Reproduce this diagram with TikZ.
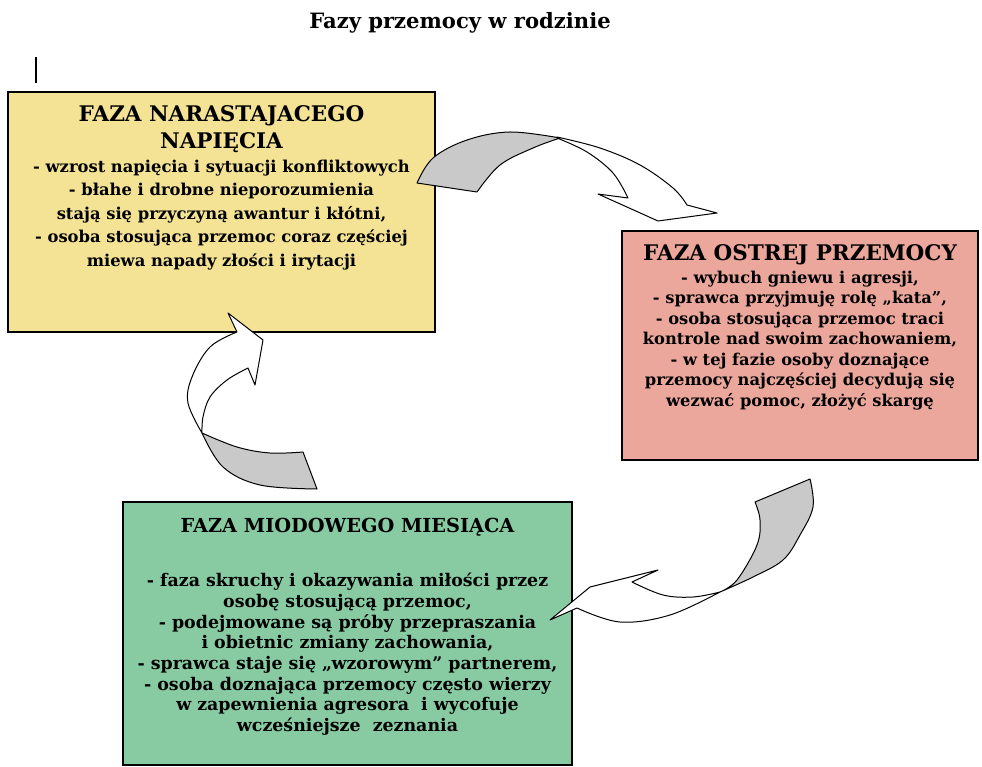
\documentclass[tikz,border=0pt]{standalone}
\usepackage{fontspec}
\setmainfont{DejaVu Serif}
\usepackage{xcolor}
\usetikzlibrary{positioning}

\definecolor{tensionfill}{HTML}{F4E395}
\definecolor{acutefill}{HTML}{ECA79C}
\definecolor{honeyfill}{HTML}{88CBA2}
\definecolor{ribbonfill}{HTML}{C9C9C9}

\begin{document}
\begin{tikzpicture}[
    x=1pt,
    y=-1pt,
    thick,
    node distance=15pt
]

\tikzstyle{phase}=[
    rectangle,
    draw,
    line width=1.4pt,
    inner sep=0pt
]

\tikzstyle{phasetext}=[
    align=center,
    inner sep=0pt
]

\tikzstyle{arrowback}=[draw, fill=ribbonfill, line width=1pt, line join=round]
\tikzstyle{arrowfront}=[draw, fill=white, line width=1pt, line join=round]

\useasboundingbox (0,0) rectangle (982,767);

\node[font=\bfseries\fontsize{21.1}{26}\selectfont] (title) at (460,23) {Fazy przemocy w rodzinie};

\coordinate (cursor) at (36,57);
\draw[line width=1.5pt] (cursor) -- ++(0,26);

\node[phase, fill=tensionfill, minimum width=427pt, minimum height=240pt] (build) at (221.5,212) {};
\node[phase, fill=acutefill, minimum width=356pt, minimum height=229pt] (acute) at (800,345.5) {};
\node[phase, fill=honeyfill, minimum width=449pt, minimum height=263pt] (honey) at (347.5,633.5) {};

\node[phasetext, font=\bfseries\fontsize{16.35}{23.5}\selectfont, below=14pt of build.north] (buildtext) {%
    {\fontsize{21.5}{27}\selectfont FAZA NARASTAJACEGO}\\[3.5pt]
    {\fontsize{21.5}{27}\selectfont NAPIĘCIA}\\
    - wzrost napięcia i sytuacji konfliktowych\\
    - błahe i drobne nieporozumienia\\
    stają się przyczyną awantur i kłótni,\\
    - osoba stosująca przemoc coraz częściej\\
    miewa napady złości i irytacji};

\node[phasetext, font=\bfseries\fontsize{16.3}{20.5}\selectfont, below=14pt of acute.north] (acutetext) {%
    {\fontsize{21.5}{26}\selectfont FAZA OSTREJ PRZEMOCY}\\[2pt]
    - wybuch gniewu i agresji,\\
    - sprawca przyjmuję rolę „kata”,\\
    - osoba stosująca przemoc traci\\
    kontrole nad swoim zachowaniem,\\
    - w tej fazie osoby doznające\\
    przemocy najczęściej decydują się\\
    wezwać pomoc, złożyć skargę};

\node[phasetext, font=\bfseries\fontsize{17.4}{20.7}\selectfont, below=16pt of honey.north] (honeytext) {%
    {\fontsize{19.3}{23}\selectfont FAZA MIODOWEGO MIESIĄCA}\\[34pt]
    - faza skruchy i okazywania miłości przez\\
    osobę stosującą przemoc,\\
    - podejmowane są próby przepraszania\\
    i obietnic zmiany zachowania,\\
    - sprawca staje się „wzorowym” partnerem,\\
    - osoba doznająca przemocy często wierzy\\
    w zapewnienia agresora~ i wycofuje\\
    wcześniejsze~ zeznania};

\filldraw[arrowback] plot[smooth, tension=0.6] coordinates {(417,183) (433,158) (467,140) (510,132) (560,138)}
    -- plot[smooth, tension=0.6] coordinates {(560,138) (533,148) (500,165) (477,192)} -- cycle;
\filldraw[arrowfront] plot[smooth, tension=0.6] coordinates {(557,137) (600,148) (640,165) (673,188) (687,205)}
    -- (717,213) -- (658,221) -- (598,194) -- (628,198)
    -- plot[smooth, tension=0.6] coordinates {(628,198) (613,173) (587,152) (557,138)} -- cycle;

\filldraw[arrowback] plot[smooth, tension=0.6] coordinates {(810,479) (813,507) (800,535) (783,560) (753,577) (720,592)}
    -- plot[smooth, tension=0.6] coordinates {(720,592) (737,580) (757,545) (760,520) (755,502)} -- cycle;
\filldraw[arrowfront] plot[smooth, tension=0.6] coordinates {(720,592) (670,615) (620,622) (577,608)}
    -- (550,620) -- (590,587) -- (658,570) -- (632,582)
    -- plot[smooth, tension=0.6] coordinates {(632,582) (663,595) (693,597) (720,592)} -- cycle;

\filldraw[arrowback] plot[smooth, tension=0.6] coordinates {(202,433) (223,467) (260,485) (317,489)}
    -- (303,452) -- plot[smooth, tension=0.6] coordinates {(303,452) (270,453) (237,447) (202,433)} -- cycle;
\filldraw[arrowfront] plot[smooth, tension=0.6] coordinates {(202,433) (188,403) (192,377) (210,347) (237,332)}
    -- (228,313) -- (263,340) -- (255,385) -- (248,368)
    -- plot[smooth, tension=0.6] coordinates {(248,368) (227,380) (210,397) (203,417) (202,433)} -- cycle;

\end{tikzpicture}
\end{document}
